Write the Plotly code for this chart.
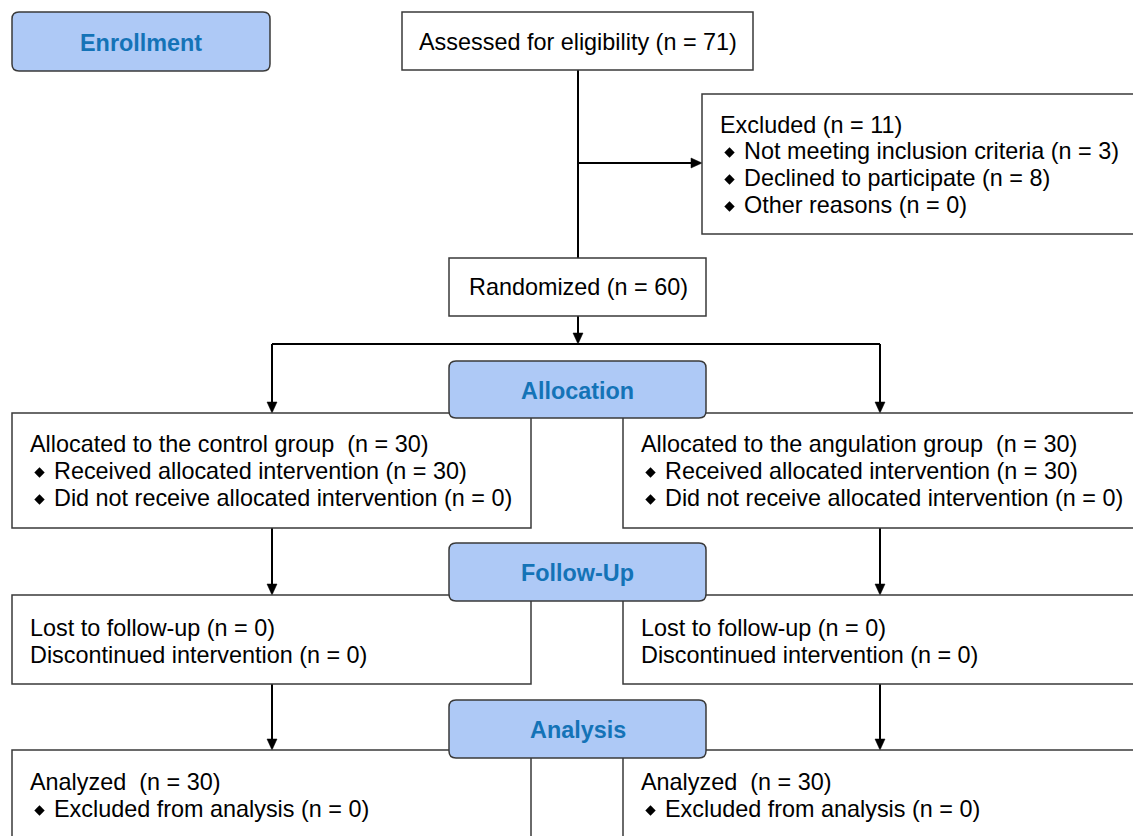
import plotly.graph_objects as go

# ---------------- data (texts and counts) ----------------
stage_labels = ["Enrollment", "Allocation", "Follow-Up", "Analysis"]
n_assessed = 71
n_excluded = 11
excluded_reasons = ["Not meeting inclusion criteria", "Declined to participate", "Other reasons"]
excluded_counts = [3, 8, 0]
n_randomized = 60
group_names = ["the control group", "the angulation group"]
n_allocated = [30, 30]
n_received = [30, 30]
n_not_received = [0, 0]
n_lost = [0, 0]
n_discontinued = [0, 0]
n_analyzed = [30, 30]
n_excluded_analysis = [0, 0]

# ---------------- styling / geometry ----------------
W, H = 1133, 836
FONT = "Liberation Sans, Arial, Helvetica, sans-serif"
FS = 23.4
STAGE_FILL = "#aec9f6"
STAGE_TEXT = "#1473b7"
BORDER = "#3a3a3a"
PAD = 2  # annotation inner padding compensation

fig = go.Figure()
shapes = []
annots = []
bullet_x, bullet_y = [], []


def rect(x0, x1, y0, y1):
    shapes.append(dict(type="rect", x0=x0, x1=x1, y0=y0, y1=y1, xref="x", yref="y",
                       line=dict(color=BORDER, width=1.5), fillcolor="white", layer="below"))


def rrect(x0, x1, y0, y1, r=7):
    p = (f"M{x0+r},{y0} L{x1-r},{y0} Q{x1},{y0} {x1},{y0+r} L{x1},{y1-r} "
         f"Q{x1},{y1} {x1-r},{y1} L{x0+r},{y1} Q{x0},{y1} {x0},{y1-r} "
         f"L{x0},{y0+r} Q{x0},{y0} {x0+r},{y0} Z")
    shapes.append(dict(type="path", path=p, xref="x", yref="y",
                       line=dict(color=BORDER, width=1.5), fillcolor=STAGE_FILL, layer="below"))


def line(x0, y0, x1, y1):
    shapes.append(dict(type="line", x0=x0, y0=y0, x1=x1, y1=y1, xref="x", yref="y",
                       line=dict(color="black", width=2), layer="below"))


def arrow_down(x, y0, y1):
    line(x, y0, x, y1 - 9)
    p = f"M{x-5},{y1-11} L{x+5},{y1-11} L{x},{y1} Z"
    shapes.append(dict(type="path", path=p, xref="x", yref="y", fillcolor="black",
                       line=dict(color="black", width=0.5), layer="below"))


def arrow_right(x0, x1, y):
    line(x0, y, x1 - 9, y)
    p = f"M{x1-11},{y-5} L{x1-11},{y+5} L{x1},{y} Z"
    shapes.append(dict(type="path", path=p, xref="x", yref="y", fillcolor="black",
                       line=dict(color="black", width=0.5), layer="below"))


def text(x, y, s, anchor="left", bold=False, color="black", size=FS):
    xx = x - PAD if anchor == "left" else x
    annots.append(dict(x=xx, y=y, xref="x", yref="y", text=(f"<b>{s}</b>" if bold else s),
                       showarrow=False, xanchor=anchor, yanchor="middle",
                       font=dict(family=FONT, size=size, color=color)))


def btext(x, y, s):
    # bulleted line: x is the left edge of the block's main text
    bullet_x.append(x + 9.5)
    bullet_y.append(y + 1.5)
    text(x + 24, y, s)


# connectors
line(578, 70, 578, 258)
arrow_right(578, 702, 163)
arrow_down(578, 316, 344)
line(272, 344, 880, 344)
arrow_down(272, 344, 413)
arrow_down(880, 344, 413)
arrow_down(272, 528, 595)
arrow_down(880, 528, 595)
arrow_down(272, 684, 750)
arrow_down(880, 684, 750)

# boxes
rect(402, 753, 12, 70)
rect(702, 1145, 94, 234)
rect(449, 706, 258, 316)
rect(12, 531, 413, 528)
rect(623, 1145, 413, 528)
rect(12, 531, 595, 684)
rect(623, 1145, 595, 684)
rect(12, 531, 750, 850)
rect(623, 1145, 750, 850)

stage_pos = [(12, 270, 12, 71), (449, 706, 361, 418), (449, 706, 543, 601), (449, 706, 700, 758)]
for lab, (x0, x1, y0, y1) in zip(stage_labels, stage_pos):
    rrect(x0, x1, y0, y1)
    text((x0 + x1) / 2, (y0 + y1) / 2 + 1, lab, anchor="center", bold=True, color=STAGE_TEXT)

# texts
text(578, 42, f"Assessed for eligibility (n = {n_assessed})", anchor="center")
text(720, 125, f"Excluded (n = {n_excluded})")
for i, (r, c) in enumerate(zip(excluded_reasons, excluded_counts)):
    btext(720, 151 + 27 * i, f"{r} (n = {c})")
text(578, 287, f"Randomized (n = {n_randomized})", anchor="center")

for gx, g, na, nr, nn, nl, nd, nan, nea in zip(
        [30, 641], group_names, n_allocated, n_received, n_not_received,
        n_lost, n_discontinued, n_analyzed, n_excluded_analysis):
    text(gx, 444, f"Allocated to {g}  (n = {na})")
    btext(gx, 471, f"Received allocated intervention (n = {nr})")
    btext(gx, 498, f"Did not receive allocated intervention (n = {nn})")
    text(gx, 628, f"Lost to follow-up (n = {nl})")
    text(gx, 655, f"Discontinued intervention (n = {nd})")
    text(gx, 782, f"Analyzed  (n = {nan})")
    btext(gx, 809, f"Excluded from analysis (n = {nea})")

fig.add_trace(go.Scatter(x=bullet_x, y=bullet_y, mode="markers", hoverinfo="skip",
                         marker=dict(symbol="diamond", size=8, color="black",
                                     line=dict(width=0))))

fig.update_layout(
    width=W, height=H,
    margin=dict(l=0, r=0, t=0, b=0),
    paper_bgcolor="white", plot_bgcolor="white",
    xaxis=dict(range=[0, W], visible=False, fixedrange=True),
    yaxis=dict(range=[H, 0], visible=False, fixedrange=True),
    shapes=shapes, annotations=annots, showlegend=False,
)
fig.write_html("out.html", config={"displayModeBar": False},
               post_script="document.body.style.margin='0';document.body.style.overflow='hidden';")
